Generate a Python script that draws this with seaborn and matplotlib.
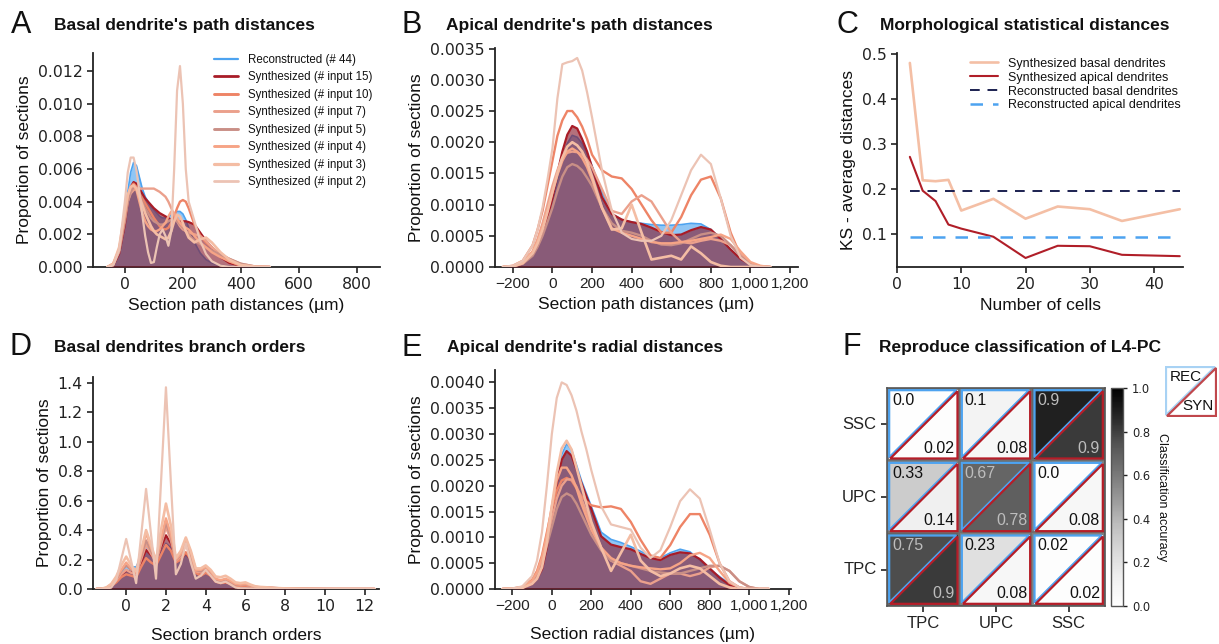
import matplotlib
matplotlib.use("Agg")
import numpy as np
import pandas as pd
import matplotlib.pyplot as plt
from matplotlib.lines import Line2D
from matplotlib.patches import Polygon
from matplotlib.ticker import FuncFormatter, MultipleLocator, FormatStrFormatter
import seaborn as sns

W, H = 1219, 644

# ---------------- data ----------------
SERIES_LABELS = ["Reconstructed (# 44)", "Synthesized (# input 15)", "Synthesized (# input 10)",
                 "Synthesized (# input 7)", "Synthesized (# input 5)", "Synthesized (# input 4)",
                 "Synthesized (# input 3)", "Synthesized (# input 2)"]
SERIES_COLORS = ["#4da3f0", "#a81c27", "#ee8466", "#eba08c", "#c98f86", "#f6a486", "#f4bda4", "#ecc3b4"]
SERIES_LW = [1.2, 1.6, 1.7, 1.7, 1.7, 1.7, 1.9, 1.6]

# Panel A: basal path distances (density, in units of 1e-3)
A_UNIT = 1e-3
A_X = [-60, -40, -20, 0, 10, 20, 30, 40, 50, 60, 70, 80, 90, 100, 110, 120, 130, 140, 150, 160,
       170, 180, 190, 200, 210, 220, 240, 260, 280, 300, 330, 360, 400, 450, 500]
A_REC = [0, 0.1, 0.8, 2.8, 4.6, 5.8, 6.4, 6.2, 5.5, 4.8, 4.3, 4.0, 3.7, 3.5, 3.3, 3.1, 3.0, 3.0, 3.05, 3.2,
         3.3, 3.4, 3.4, 3.25, 2.9, 2.4, 1.5, 0.85, 0.45, 0.25, 0.1, 0.04, 0.01, 0, 0]
A_S15 = [0, 0.1, 0.8, 2.6, 4.0, 4.9, 5.2, 5.1, 4.8, 4.5, 4.2, 4.0, 3.8, 3.6, 3.45, 3.3, 3.2, 3.1, 3.0, 2.9,
         2.85, 2.8, 2.8, 2.8, 2.8, 2.75, 2.6, 2.1, 1.6, 1.2, 0.6, 0.25, 0.06, 0.01, 0]
A_S10 = [0, 0.2, 1.0, 3.0, 4.2, 4.9, 5.1, 4.9, 4.5, 4.2, 3.9, 3.6, 3.3, 3.0, 2.75, 2.5, 2.35, 2.3, 2.4, 2.7,
         3.1, 3.6, 4.0, 4.1, 4.0, 3.6, 2.6, 1.9, 1.5, 1.2, 0.7, 0.35, 0.08, 0.01, 0]
A_S7 = [0, 0.2, 1.0, 3.0, 4.0, 4.5, 4.7, 4.8, 4.8, 4.8, 4.8, 4.8, 4.8, 4.8, 4.7, 4.6, 4.45, 4.3, 4.0, 3.6,
        3.2, 2.8, 2.5, 2.3, 2.2, 2.1, 2.0, 1.9, 1.6, 1.2, 0.8, 0.5, 0.2, 0.03, 0]
A_S5 = [0, 0.15, 0.9, 2.8, 4.0, 4.6, 4.9, 4.8, 4.4, 4.0, 3.6, 3.3, 3.0, 2.8, 2.7, 2.6, 2.6, 2.7, 2.8, 2.9,
        2.9, 2.8, 2.6, 2.4, 2.2, 2.0, 1.6, 1.4, 1.2, 1.0, 0.75, 0.5, 0.2, 0.03, 0]
A_S4 = [0, 0.2, 1.1, 3.2, 4.4, 4.9, 5.0, 4.7, 4.0, 3.3, 2.8, 2.5, 2.3, 2.2, 2.2, 2.3, 2.5, 2.7, 3.1, 3.4,
        3.3, 3.0, 2.7, 2.5, 2.4, 2.3, 1.9, 1.5, 1.2, 0.9, 0.6, 0.35, 0.1, 0.02, 0]
A_S3 = [0, 0.2, 1.2, 3.4, 4.4, 4.9, 5.0, 4.8, 4.3, 3.8, 3.3, 2.9, 2.5, 2.2, 2.0, 1.9, 1.8, 1.7, 1.8, 2.2,
        2.8, 3.2, 3.1, 2.7, 2.2, 1.8, 1.5, 1.7, 1.8, 1.5, 0.9, 0.45, 0.12, 0.02, 0]
A_S2 = [0, 0.1, 1.0, 4.0, 5.8, 6.7, 6.7, 5.9, 4.6, 3.2, 1.9, 0.9, 0.25, 0.3, 1.2, 2.0, 2.3, 1.9, 1.3, 2.2,
        6.0, 10.8, 12.3, 10.0, 6.0, 4.0, 2.8, 1.6, 0.8, 0.35, 0.08, 0.01, 0, 0, 0]

# Panel B: apical path distances (units of 1e-3)
B_UNIT = 1e-3
B_X = [-250, -200, -150, -100, -75, -50, -25, 0, 25, 50, 75, 100, 125, 150, 175, 200, 250, 300, 350, 400,
       450, 500, 550, 600, 650, 700, 750, 800, 850, 900, 950, 1000, 1050, 1100]
B_REC = [0, 0.01, 0.05, 0.18, 0.3, 0.5, 0.72, 1.0, 1.38, 1.72, 1.98, 2.11, 2.08, 1.98, 1.82, 1.62, 1.2, 0.85, 0.76, 0.72,
         0.7, 0.68, 0.67, 0.67, 0.68, 0.7, 0.69, 0.6, 0.45, 0.28, 0.14, 0.05, 0.015, 0]
B_S15 = [0, 0.01, 0.05, 0.2, 0.33, 0.55, 0.8, 1.1, 1.5, 1.85, 2.12, 2.26, 2.22, 2.05, 1.85, 1.6, 1.12, 0.85, 0.76, 0.72,
         0.69, 0.63, 0.56, 0.51, 0.52, 0.59, 0.64, 0.6, 0.45, 0.28, 0.13, 0.04, 0.01, 0]
B_S10 = [0, 0.02, 0.1, 0.35, 0.6, 0.9, 1.3, 1.7, 2.1, 2.35, 2.5, 2.5, 2.4, 2.25, 2.05, 1.8, 1.55, 1.45, 1.42, 1.25,
         1.0, 0.75, 0.55, 0.55, 0.8, 1.15, 1.4, 1.45, 1.1, 0.55, 0.18, 0.04, 0, 0]
B_S7 = [0, 0.01, 0.06, 0.25, 0.45, 0.7, 1.0, 1.3, 1.55, 1.75, 1.83, 1.85, 1.84, 1.8, 1.72, 1.6, 1.25, 0.9, 0.85, 1.05,
        1.15, 1.05, 0.8, 0.55, 0.4, 0.38, 0.42, 0.45, 0.42, 0.35, 0.2, 0.06, 0.01, 0]
B_S5 = [0, 0.01, 0.05, 0.18, 0.32, 0.5, 0.72, 0.95, 1.22, 1.45, 1.6, 1.65, 1.62, 1.55, 1.43, 1.3, 0.95, 0.7, 0.58, 0.55,
        0.5, 0.42, 0.36, 0.35, 0.38, 0.45, 0.52, 0.55, 0.5, 0.35, 0.17, 0.05, 0.01, 0]
B_S4 = [0, 0.01, 0.07, 0.25, 0.42, 0.65, 0.92, 1.2, 1.47, 1.7, 1.85, 1.9, 1.85, 1.75, 1.6, 1.4, 0.95, 0.62, 0.55, 0.5,
        0.45, 0.4, 0.38, 0.38, 0.4, 0.42, 0.45, 0.48, 0.52, 0.45, 0.25, 0.08, 0.02, 0]
B_S3 = [0, 0.01, 0.06, 0.22, 0.38, 0.6, 0.88, 1.2, 1.5, 1.75, 1.93, 2.0, 1.95, 1.85, 1.68, 1.45, 0.95, 0.6, 0.62, 1.0,
        0.55, 0.12, 0.15, 0.18, 0.12, 0.33, 0.22, 0.08, 0.02, 0, 0, 0, 0, 0]
B_S2 = [0, 0.02, 0.1, 0.35, 0.6, 0.95, 1.4, 1.9, 2.7, 3.25, 3.28, 3.3, 3.35, 3.15, 2.8, 2.4, 1.55, 0.9, 0.55, 0.45,
        0.42, 0.42, 0.5, 0.75, 1.15, 1.55, 1.8, 1.65, 1.1, 0.5, 0.15, 0.03, 0, 0]

# Panel C: KS distances vs number of cells
C_N = [2, 4, 6, 8, 10, 15, 20, 25, 30, 35, 44]
C_BASAL = [0.48, 0.22, 0.218, 0.221, 0.153, 0.179, 0.135, 0.162, 0.156, 0.130, 0.156]
C_APICAL = [0.272, 0.197, 0.174, 0.122, 0.113, 0.095, 0.048, 0.075, 0.074, 0.055, 0.052]
C_REC_BASAL = 0.197
C_REC_APICAL = 0.094
C_LABELS = ["Synthesized basal dendrites", "Synthesized apical dendrites",
            "Reconstructed basal dendrites", "Reconstructed apical dendrites"]

# Panel D: basal branch orders
D_X = [-1.5, -1.25, -1, -0.75, -0.5, -0.25, 0, 0.25, 0.5, 0.75, 1, 1.25, 1.5, 1.75, 2, 2.25, 2.5, 2.75, 3, 3.25,
       3.5, 3.75, 4, 4.25, 4.5, 4.75, 5, 5.25, 5.5, 5.75, 6, 6.25, 6.5, 6.75, 7, 7.5, 8, 9, 10, 11, 12, 12.5]
D_REC = [0, 0.002, 0.008, 0.03, 0.07, 0.125, 0.155, 0.15, 0.15, 0.22, 0.29, 0.26, 0.21, 0.25, 0.31, 0.28, 0.2, 0.2, 0.23, 0.2,
         0.13, 0.11, 0.12, 0.1, 0.06, 0.048, 0.05, 0.04, 0.028, 0.025, 0.025, 0.02, 0.012, 0.01, 0.008, 0.005, 0.003, 0.001, 0.0005, 0, 0, 0]
D_S15 = [0, 0.001, 0.005, 0.02, 0.05, 0.095, 0.125, 0.115, 0.105, 0.18, 0.265, 0.23, 0.2, 0.28, 0.365, 0.31, 0.21, 0.2, 0.245, 0.2,
         0.12, 0.1, 0.115, 0.09, 0.055, 0.045, 0.045, 0.035, 0.025, 0.022, 0.022, 0.018, 0.014, 0.012, 0.01, 0.007, 0.004, 0.001, 0.0005, 0, 0, 0]
D_S10 = [0, 0.001, 0.005, 0.02, 0.045, 0.08, 0.1, 0.09, 0.08, 0.15, 0.21, 0.18, 0.16, 0.23, 0.3, 0.26, 0.18, 0.2, 0.25, 0.2,
         0.11, 0.09, 0.11, 0.09, 0.05, 0.04, 0.045, 0.035, 0.022, 0.02, 0.022, 0.016, 0.01, 0.008, 0.006, 0.004, 0.002, 0.001, 0, 0, 0, 0]
D_S7 = [0, 0.001, 0.006, 0.025, 0.06, 0.1, 0.13, 0.11, 0.1, 0.2, 0.3, 0.24, 0.18, 0.3, 0.42, 0.33, 0.19, 0.22, 0.3, 0.22,
        0.12, 0.11, 0.13, 0.1, 0.06, 0.05, 0.06, 0.045, 0.03, 0.025, 0.03, 0.02, 0.012, 0.01, 0.008, 0.005, 0.003, 0.001, 0, 0, 0, 0]
D_S5 = [0, 0.002, 0.008, 0.03, 0.07, 0.12, 0.16, 0.13, 0.11, 0.22, 0.33, 0.26, 0.19, 0.32, 0.45, 0.35, 0.2, 0.23, 0.32, 0.24,
        0.13, 0.12, 0.14, 0.11, 0.06, 0.05, 0.065, 0.05, 0.03, 0.028, 0.032, 0.022, 0.013, 0.01, 0.008, 0.005, 0.003, 0.001, 0, 0, 0, 0]
D_S4 = [0, 0.002, 0.008, 0.03, 0.075, 0.13, 0.18, 0.14, 0.11, 0.24, 0.38, 0.28, 0.19, 0.34, 0.48, 0.37, 0.2, 0.24, 0.34, 0.25,
        0.13, 0.13, 0.15, 0.12, 0.07, 0.06, 0.07, 0.055, 0.035, 0.03, 0.035, 0.025, 0.015, 0.012, 0.01, 0.006, 0.003, 0.001, 0, 0, 0, 0]
D_S3 = [0, 0.002, 0.01, 0.035, 0.085, 0.16, 0.22, 0.16, 0.12, 0.26, 0.4, 0.3, 0.19, 0.4, 0.58, 0.43, 0.21, 0.26, 0.35, 0.26,
        0.14, 0.14, 0.16, 0.13, 0.085, 0.08, 0.09, 0.07, 0.045, 0.04, 0.045, 0.03, 0.018, 0.014, 0.012, 0.007, 0.004, 0.001, 0, 0, 0, 0]
D_S2 = [0, 0, 0.001, 0.01, 0.06, 0.2, 0.34, 0.19, 0.04, 0.36, 0.68, 0.37, 0.07, 0.72, 1.37, 0.72, 0.1, 0.17, 0.31, 0.18,
        0.07, 0.09, 0.13, 0.09, 0.05, 0.04, 0.05, 0.03, 0.01, 0.005, 0.005, 0.003, 0.001, 0, 0, 0, 0, 0, 0, 0, 0, 0]

# Panel E: apical radial distances (units of 1e-3)
E_UNIT = 1e-3
E_X = [-250, -200, -150, -100, -75, -50, -25, 0, 25, 50, 75, 100, 125, 150, 175, 200, 250, 300, 350, 400,
       450, 500, 550, 600, 650, 700, 750, 800, 850, 900, 950, 1000, 1050, 1100]
E_REC = [0, 0.005, 0.02, 0.1, 0.2, 0.4, 0.85, 1.5, 2.15, 2.6, 2.81, 2.7, 2.4, 2.1, 1.85, 1.6, 1.1, 0.96, 0.9, 0.82,
         0.73, 0.64, 0.6, 0.7, 0.77, 0.72, 0.56, 0.38, 0.24, 0.1, 0.02, 0.005, 0, 0]
E_S15 = [0, 0.005, 0.02, 0.1, 0.2, 0.38, 0.8, 1.4, 2.05, 2.5, 2.67, 2.58, 2.32, 2.05, 1.8, 1.55, 1.02, 0.86, 0.81, 0.77,
         0.68, 0.6, 0.56, 0.66, 0.71, 0.69, 0.58, 0.4, 0.22, 0.08, 0.02, 0.005, 0, 0]
E_S10 = [0, 0.01, 0.04, 0.18, 0.35, 0.65, 1.1, 1.55, 1.9, 2.1, 2.15, 2.1, 1.95, 1.8, 1.7, 1.62, 1.58, 1.6, 1.55, 1.3,
         0.95, 0.65, 0.6, 0.85, 1.2, 1.45, 1.45, 1.05, 0.5, 0.15, 0.03, 0, 0, 0]
E_S7 = [0, 0.005, 0.03, 0.14, 0.28, 0.55, 0.95, 1.35, 1.75, 2.0, 2.12, 2.12, 1.98, 1.75, 1.5, 1.25, 0.8, 0.55, 0.45, 0.35,
        0.15, 0.1, 0.2, 0.3, 0.3, 0.25, 0.3, 0.42, 0.45, 0.35, 0.15, 0.04, 0, 0]
E_S5 = [0, 0.005, 0.025, 0.12, 0.25, 0.48, 0.85, 1.2, 1.55, 1.78, 1.85, 1.8, 1.65, 1.45, 1.25, 1.05, 0.75, 0.55, 0.5, 0.45,
        0.4, 0.35, 0.32, 0.3, 0.3, 0.35, 0.4, 0.45, 0.45, 0.35, 0.15, 0.04, 0, 0]
E_S4 = [0, 0.008, 0.035, 0.16, 0.32, 0.6, 1.05, 1.6, 2.1, 2.35, 2.35, 2.2, 1.95, 1.65, 1.4, 1.15, 0.8, 0.6, 0.5, 0.45,
        0.42, 0.4, 0.38, 0.4, 0.5, 0.65, 0.7, 0.6, 0.35, 0.12, 0.03, 0, 0, 0]
E_S3 = [0, 0.005, 0.02, 0.1, 0.2, 0.42, 0.9, 1.6, 2.25, 2.72, 2.87, 2.7, 2.35, 2.0, 1.65, 1.3, 0.8, 0.35, 0.7, 1.05,
        0.55, 0.35, 0.25, 0.3, 0.4, 0.45, 0.4, 0.25, 0.1, 0.03, 0, 0, 0, 0]
E_S2 = [0, 0.01, 0.05, 0.25, 0.55, 1.1, 2.0, 3.0, 3.7, 4.0, 3.95, 3.75, 3.45, 3.05, 2.7, 2.3, 1.6, 1.25, 1.2, 1.15,
        0.8, 0.6, 0.75, 1.2, 1.7, 1.93, 1.75, 1.15, 0.5, 0.15, 0.03, 0, 0, 0]

# Panel F: classification accuracy (REC = reconstructed, SYN = synthesized)
F_ROWS = ["SSC", "UPC", "TPC"]
F_COLS = ["TPC", "UPC", "SSC"]
F_REC = [[0.0, 0.1, 0.9], [0.33, 0.67, 0.0], [0.75, 0.23, 0.02]]
F_SYN = [[0.02, 0.08, 0.9], [0.14, 0.78, 0.08], [0.9, 0.08, 0.02]]
F_REC_TXT = [["0.0", "0.1", "0.9"], ["0.33", "0.67", "0.0"], ["0.75", "0.23", "0.02"]]
F_SYN_TXT = [["0.02", "0.08", "0.9"], ["0.14", "0.78", "0.08"], ["0.9", "0.08", "0.02"]]

# ---------------- style ----------------
sns.set_theme(style="ticks")
plt.rcParams["font.family"] = ["Liberation Sans", "DejaVu Sans"]
plt.rcParams.update({
    "axes.edgecolor": "#222222", "axes.linewidth": 1.3,
    "xtick.color": "#222222", "ytick.color": "#222222",
    "xtick.major.size": 4, "ytick.major.size": 4,
    "xtick.major.width": 1.2, "ytick.major.width": 1.2,
    "xtick.labelsize": 11.3, "ytick.labelsize": 11.3,
    "axes.labelsize": 12.5, "axes.labelcolor": "#111111",
    "text.color": "#111111",
})

fig = plt.figure(figsize=(W / 100, H / 100), dpi=100)


def box(l, t, r, b):
    return [l / W, 1 - b / H, (r - l) / W, (b - t) / H]


def label_at(x, y, s, **kw):
    fig.text(x / W, 1 - y / H, s, va="baseline", ha="left", **kw)


def tick_font(ax, size=11.3):
    ax.tick_params(labelfontfamily="DejaVu Sans", labelsize=size)


def kde_panel(ax, x, ys, unit):
    x = np.asarray(x, float)
    rec = np.asarray(ys[0], float) * unit
    s15 = np.asarray(ys[1], float) * unit
    ax.fill_between(x, 0, rec, color="#4da3f0", alpha=0.62, lw=0, zorder=1)
    sns.lineplot(x=x, y=rec, ax=ax, color=SERIES_COLORS[0], lw=SERIES_LW[0], zorder=2, errorbar=None)
    ax.fill_between(x, 0, s15, color="#861a2c", alpha=0.62, lw=0, zorder=3)
    sns.lineplot(x=x, y=s15, ax=ax, color=SERIES_COLORS[1], lw=SERIES_LW[1], zorder=4, errorbar=None)
    for k in range(2, 8):
        sns.lineplot(x=x, y=np.asarray(ys[k], float) * unit, ax=ax, color=SERIES_COLORS[k],
                     lw=SERIES_LW[k], zorder=5, errorbar=None)
    sns.despine(ax=ax)
    if ax.get_legend() is not None:
        ax.get_legend().remove()
    tick_font(ax)


comma_fmt = FuncFormatter(lambda v, p: f"{v:,.0f}".replace("-", "\u2212"))

# ---- A ----
axA = fig.add_axes(box(93, 53, 380, 267))
kde_panel(axA, A_X, [A_REC, A_S15, A_S10, A_S7, A_S5, A_S4, A_S3, A_S2], A_UNIT)
axA.set_xlim(-110, 880)
axA.set_ylim(0, 0.0131)
axA.xaxis.set_major_locator(MultipleLocator(200))
axA.yaxis.set_major_locator(MultipleLocator(0.002))
axA.yaxis.set_major_formatter(FormatStrFormatter("%.3f"))
axA.set_xlabel("Section path distances (µm)")
axA.set_ylabel("Proportion of sections")
handles = [Line2D([], [], color=c, lw=lw + 0.4) for c, lw in zip(SERIES_COLORS, SERIES_LW)]
axA.legend(handles, SERIES_LABELS, loc="upper right", bbox_to_anchor=(1.01, 1.045), frameon=False,
           fontsize=8.3, labelspacing=0.48, handlelength=2.1, handletextpad=0.9)

# ---- B ----
axB = fig.add_axes(box(495, 48, 798, 267))
kde_panel(axB, B_X, [B_REC, B_S15, B_S10, B_S7, B_S5, B_S4, B_S3, B_S2], B_UNIT)
axB.set_xlim(-290, 1240)
axB.set_ylim(0, 0.00351)
axB.xaxis.set_major_locator(MultipleLocator(200))
axB.xaxis.set_major_formatter(comma_fmt)
axB.tick_params(axis="x", labelfontfamily="Liberation Sans", labelsize=11.1)
axB.yaxis.set_major_locator(MultipleLocator(0.0005))
axB.yaxis.set_major_formatter(FormatStrFormatter("%.4f"))
axB.set_xlabel("Section path distances (µm)")
axB.set_ylabel("Proportion of sections")

# ---- C ----
axC = fig.add_axes(box(897, 53, 1183, 267))
sns.lineplot(x=C_N, y=C_BASAL, ax=axC, color="#f4bfa5", lw=1.9, label=C_LABELS[0], errorbar=None)
sns.lineplot(x=C_N, y=C_APICAL, ax=axC, color="#b01e28", lw=1.5, label=C_LABELS[1], errorbar=None)
sns.lineplot(x=[C_N[0], C_N[-1]], y=[C_REC_BASAL, C_REC_BASAL], ax=axC, color="#1b2050", lw=1.4,
             label=C_LABELS[2], errorbar=None)
sns.lineplot(x=[C_N[0], C_N[-1]], y=[C_REC_APICAL, C_REC_APICAL], ax=axC, color="#4da3f0", lw=1.8,
             label=C_LABELS[3], errorbar=None)
axC.lines[2].set_dashes((5, 4))
axC.lines[3].set_dashes((5, 4))
sns.despine(ax=axC)
tick_font(axC)
axC.set_xlim(0, 44.5)
axC.set_ylim(0.028, 0.502)
axC.xaxis.set_major_locator(MultipleLocator(10))
axC.yaxis.set_major_locator(MultipleLocator(0.1))
axC.yaxis.set_major_formatter(FormatStrFormatter("%.1f"))
axC.set_xlabel("Number of cells")
axC.set_ylabel("KS - average distances")
axC.legend(loc="upper right", bbox_to_anchor=(1.03, 1.03), frameon=False, fontsize=9,
           labelspacing=0.15, handlelength=2.2, handletextpad=0.8)

# ---- D ----
axD = fig.add_axes(box(93, 377, 379, 589))
kde_panel(axD, D_X, [D_REC, D_S15, D_S10, D_S7, D_S5, D_S4, D_S3, D_S2], 1.0)
axD.set_xlim(-1.67, 12.72)
axD.set_ylim(0, 1.44)
axD.xaxis.set_major_locator(MultipleLocator(2))
axD.yaxis.set_major_locator(MultipleLocator(0.2))
axD.yaxis.set_major_formatter(FormatStrFormatter("%.1f"))
axD.set_xlabel("Section branch orders", labelpad=10)
axD.set_ylabel("Proportion of sections")

# ---- E ----
axE = fig.add_axes(box(495, 370, 791, 589))
kde_panel(axE, E_X, [E_REC, E_S15, E_S10, E_S7, E_S5, E_S4, E_S3, E_S2], E_UNIT)
axE.set_xlim(-288, 1212)
axE.set_ylim(0, 0.00424)
axE.xaxis.set_major_locator(MultipleLocator(200))
axE.xaxis.set_major_formatter(comma_fmt)
axE.tick_params(axis="x", labelfontfamily="Liberation Sans", labelsize=11.1)
axE.yaxis.set_major_locator(MultipleLocator(0.0005))
axE.yaxis.set_major_formatter(FormatStrFormatter("%.4f"))
axE.set_xlabel("Section radial distances (µm)", labelpad=10)
axE.set_ylabel("Proportion of sections")

# ---- F ----
rec = np.array(F_REC, float)
syn = np.array(F_SYN, float)
syn_df = pd.DataFrame(syn, index=F_ROWS, columns=F_COLS)
axF = fig.add_axes(box(887, 388, 1105, 606))
caxF = fig.add_axes(box(1111, 388, 1123, 606))
cmap = plt.get_cmap("Greys")
sns.heatmap(syn_df, ax=axF, cbar_ax=caxF, cmap=cmap, vmin=0, vmax=1,
            linewidths=1.5, linecolor="#6f6f6f", annot=False)
axF.collections[0].set_alpha(0.87)
BLUE_E, RED_E = "#4da3f0", "#b51d28"
d, g = 0.03, 0.015
for i in range(3):
    for j in range(3):
        axF.add_patch(Polygon([(j + d, i + d), (j + 1 - d - g, i + d), (j + d, i + 1 - d - g)], closed=True,
                              facecolor=cmap(rec[i, j]), alpha=0.87, edgecolor="none", zorder=3))
        axF.add_patch(Polygon([(j + d, i + d), (j + 1 - d - g, i + d), (j + d, i + 1 - d - g)], closed=True,
                              facecolor="none", edgecolor=BLUE_E, lw=1.6, zorder=3.5))
        axF.add_patch(Polygon([(j + 1 - d, i + d + g), (j + 1 - d, i + 1 - d), (j + d + g, i + 1 - d)], closed=True,
                              facecolor="none", edgecolor=RED_E, lw=1.6, zorder=4))
        axF.text(j + 0.07, i + 0.07, F_REC_TXT[i][j], ha="left", va="top", fontsize=11.5, zorder=5,
                 color="#bdbdbd" if rec[i, j] > 0.5 else "#111111")
        axF.text(j + 0.93, i + 0.93, F_SYN_TXT[i][j], ha="right", va="bottom", fontsize=11.5, zorder=5,
                 color="#bdbdbd" if syn[i, j] > 0.5 else "#111111")
for sp in axF.spines.values():
    sp.set_visible(True)
    sp.set_color("#555555")
    sp.set_linewidth(1.2)
axF.tick_params(left=True, bottom=True, length=4, labelsize=12)
axF.set_yticklabels(F_ROWS, rotation=0)
axF.set_xticklabels(F_COLS, rotation=0)
axF.set_xlabel("")
axF.set_ylabel("")
cb = axF.collections[0].colorbar
cb.set_ticks([0.0, 0.2, 0.4, 0.6, 0.8, 1.0])
cb.ax.yaxis.set_major_formatter(FormatStrFormatter("%.1f"))
cb.ax.tick_params(labelsize=8.3, length=3, width=1, labelfontfamily="DejaVu Sans")
cb.outline.set_edgecolor("#555555")
cb.outline.set_linewidth(1)
cb.ax.set_ylabel("Classification accuracy", rotation=270, labelpad=13, fontsize=9)

# REC / SYN key
axK = fig.add_axes(box(1165, 366, 1217, 417))
axK.set_xlim(0, 1)
axK.set_ylim(0, 1)
axK.axis("off")
axK.add_patch(Polygon([(0.01, 0.04), (0.01, 0.99), (0.96, 0.99)], closed=True, facecolor="white",
                      edgecolor="#a8d2f4", lw=1.6))
axK.add_patch(Polygon([(0.04, 0.01), (0.99, 0.01), (0.99, 0.96)], closed=True, facecolor="white",
                      edgecolor="#c0474c", lw=1.6))
axK.text(0.1, 0.92, "REC", ha="left", va="top", fontsize=11)
axK.text(0.93, 0.07, "SYN", ha="right", va="bottom", fontsize=11)

# ---- titles and panel letters ----
title_kw = dict(fontsize=12.5, fontweight="bold")
letter_kw = dict(fontsize=22)
label_at(54, 30, "Basal dendrite's path distances", **title_kw)
label_at(446, 30, "Apical dendrite's path distances", **title_kw)
label_at(880, 30, "Morphological statistical distances", **title_kw)
label_at(54, 352, "Basal dendrites branch orders", **title_kw)
label_at(447, 352, "Apical dendrite's radial distances", **title_kw)
label_at(879, 352, "Reproduce classification of L4-PC", **title_kw)
label_at(11, 33, "A", **letter_kw)
label_at(402, 33, "B", **letter_kw)
label_at(837, 33, "C", **letter_kw)
label_at(10, 355, "D", **letter_kw)
label_at(401, 356, "E", **letter_kw)
label_at(843, 355, "F", **letter_kw)

fig.savefig("out.png", dpi=100)
